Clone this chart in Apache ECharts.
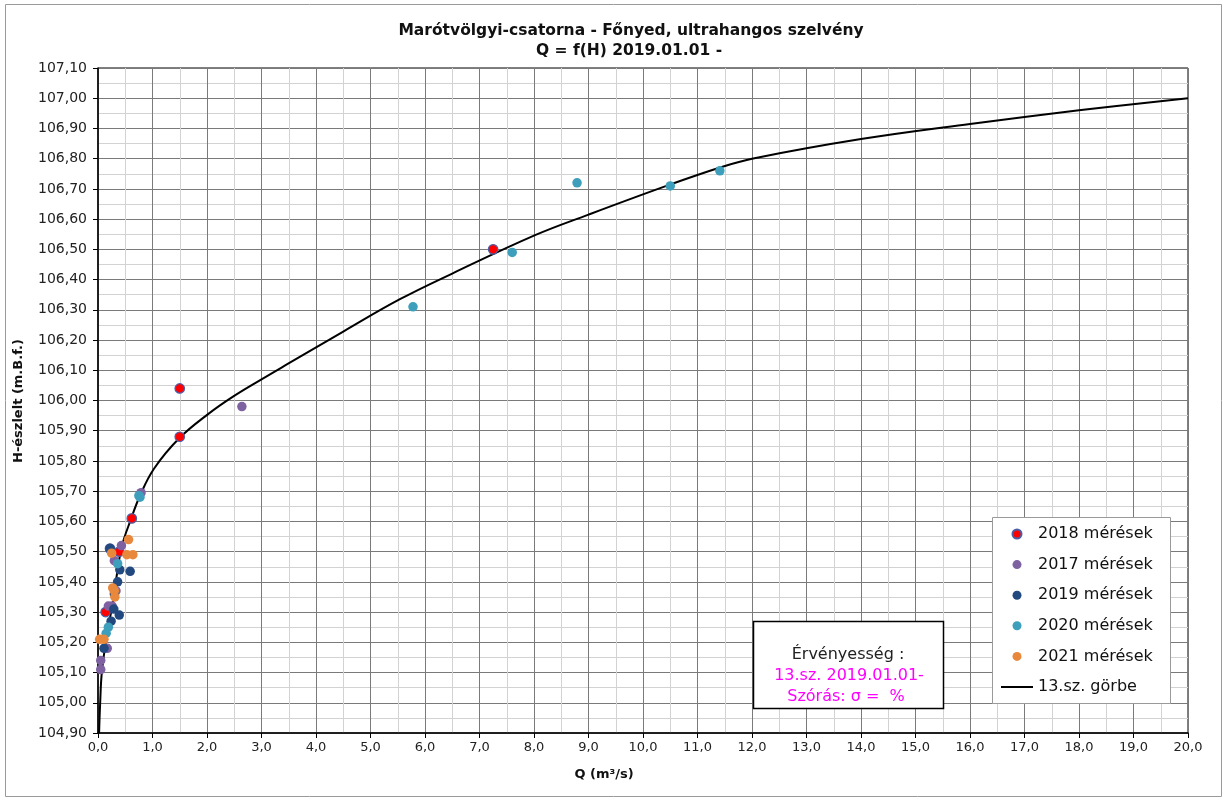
<!DOCTYPE html>
<html>
<head>
<meta charset="utf-8">
<script src="https://cdn.jsdelivr.net/npm/echarts/dist/echarts.min.js"></script>
<style>
html,body{margin:0;padding:0;background:#fff;}
#chart{width:1228px;height:802px;}
</style>
</head>
<body>
<div id="chart"></div>
<script>
// ---- data (Q in m3/s, H in m.B.f.) ----
const q2018 = [1.50, 1.50, 7.25, 0.62, 0.22, 0.39, 0.14];
const h2018 = [106.04, 105.88, 106.50, 105.61, 105.51, 105.50, 105.30];

const q2017 = [2.64, 0.79, 0.43, 0.30, 0.19, 0.26, 0.33, 0.17, 0.05, 0.05];
const h2017 = [105.98, 105.695, 105.52, 105.47, 105.32, 105.32, 105.37, 105.18, 105.14, 105.11];

const q2019 = [0.22, 0.40, 0.59, 0.36, 0.29, 0.39, 0.24, 0.11, 0.30];
const h2019 = [105.51, 105.44, 105.435, 105.40, 105.31, 105.29, 105.27, 105.18, 105.36];

const q2020 = [5.78, 7.60, 8.79, 10.50, 11.41, 0.77, 0.75, 0.36, 0.19, 0.15];
const h2020 = [106.31, 106.49, 106.72, 106.71, 106.76, 105.68, 105.685, 105.46, 105.25, 105.23];

const q2021 = [0.56, 0.25, 0.53, 0.64, 0.27, 0.30, 0.31, 0.03, 0.11];
const h2021 = [105.54, 105.495, 105.49, 105.49, 105.38, 105.37, 105.35, 105.21, 105.21];

const curveQ = [0.02, 0.04, 0.07, 0.16, 0.28, 0.36, 0.44, 0.60, 0.77, 1.03, 1.49, 2.02, 2.47, 3.00, 3.52, 4.50, 5.54, 6.50, 8.02, 9.00, 10.43, 11.40, 12.00, 14.00, 16.00, 18.00, 20.00];
const curveH = [104.90, 105.00, 105.10, 105.22, 105.34, 105.44, 105.52, 105.605, 105.685, 105.775, 105.875, 105.955, 106.012, 106.070, 106.125, 106.228, 106.335, 106.420, 106.547, 106.615, 106.710, 106.770, 106.800, 106.865, 106.915, 106.960, 107.000];

const seriesNames = ['2018 mérések', '2017 mérések', '2019 mérések', '2020 mérések', '2021 mérések', '13.sz. görbe'];
const titleLines = ['Marótvölgyi-csatorna - Főnyed, ultrahangos szelvény', 'Q = f(H) 2019.01.01 -'];
const yAxisTitle = 'H-észlelt (m.B.f.)';
const xAxisTitle = 'Q (m³/s)';
const boxLines = ['Érvényesség :', '13.sz. 2019.01.01-', 'Szórás: σ =  %'];

// ---- helpers ----
const zip = (a, b) => a.map((v, i) => [v, b[i]]);
const FONT = '"DejaVu Sans", Verdana, sans-serif';

const chart = echarts.init(document.getElementById('chart'), null, {renderer: 'canvas'});

function scatter(name, qs, hs, color, border) {
  return {
    name: name, type: 'scatter', data: zip(qs, hs),
    symbol: 'circle', symbolSize: 9.5,
    itemStyle: {color: color, borderColor: border || color, borderWidth: border ? 1.2 : 0, opacity: 1},
    z: 3
  };
}

const legendData = seriesNames.map((n, i) => i === 5
  ? {name: n, icon: 'path://M0,0H32V2H0Z'}
  : {name: n, icon: 'circle'});

const option = {
  backgroundColor: '#ffffff',
  animation: false,
  textStyle: {fontFamily: FONT},
  grid: {left: 98, top: 68, width: 1090, height: 665, show: true, borderColor: '#000', borderWidth: 1, backgroundColor: 'transparent'},
  xAxis: {
    type: 'value', min: 0, max: 20, interval: 1,
    axisLine: {show: true, onZero: false, lineStyle: {color: '#000', width: 1.5}},
    axisTick: {show: true, length: 5, lineStyle: {color: '#000'}},
    axisLabel: {margin: 8, fontSize: 13, color: '#222', fontFamily: FONT, formatter: v => v.toFixed(1).replace('.', ',')},
    splitLine: {show: true, lineStyle: {color: '#7a7a7a', width: 1}},
    minorTick: {show: false, splitNumber: 2},
    minorSplitLine: {show: true, lineStyle: {color: '#d2d2d2', width: 1}}
  },
  yAxis: {
    type: 'value', min: 104.9, max: 107.1, interval: 0.1,
    axisLine: {show: true, onZero: false, lineStyle: {color: '#000', width: 1.5}},
    axisTick: {show: true, length: 5, lineStyle: {color: '#000'}},
    axisLabel: {margin: 11, fontSize: 14, color: '#222', fontFamily: FONT, formatter: v => v.toFixed(2).replace('.', ',')},
    splitLine: {show: true, lineStyle: {color: '#7a7a7a', width: 1}},
    minorTick: {show: false, splitNumber: 2},
    minorSplitLine: {show: true, lineStyle: {color: '#d2d2d2', width: 1}}
  },
  legend: {
    orient: 'vertical', left: 1001, top: 526,
    itemWidth: 32, itemHeight: 9, itemGap: 14.6,
    padding: 0,
    data: legendData,
    textStyle: {fontSize: 16, lineHeight: 16, color: '#111', fontFamily: FONT},
    z: 10
  },
  series: [
    {
      name: seriesNames[5], type: 'line', data: zip(curveQ, curveH),
      smooth: 0.4, showSymbol: false, symbol: 'none',
      lineStyle: {color: '#000', width: 2}, itemStyle: {color: '#000'}, z: 2
    },
    scatter(seriesNames[0], q2018, h2018, '#ff0000', '#4a5fa8'),
    scatter(seriesNames[1], q2017, h2017, '#7e61a1'),
    scatter(seriesNames[2], q2019, h2019, '#22497f'),
    scatter(seriesNames[3], q2020, h2020, '#3d9fbb'),
    scatter(seriesNames[4], q2021, h2021, '#e8883c')
  ],
  graphic: [
    {type: 'rect', shape: {x: 5.5, y: 4.5, width: 1216, height: 792}, style: {fill: 'none', stroke: '#9a9a9a', lineWidth: 1}, z: 0, silent: true},
    {type: 'text', x: 631, y: 31, style: {text: titleLines[0], font: 'bold 15.5px ' + FONT, fill: '#111', textAlign: 'center', textVerticalAlign: 'middle'}},
    {type: 'text', x: 629, y: 51, style: {text: titleLines[1], font: 'bold 15.5px ' + FONT, fill: '#111', textAlign: 'center', textVerticalAlign: 'middle'}},
    {type: 'text', x: 19, y: 401, rotation: Math.PI / 2, style: {text: yAxisTitle, font: 'bold 13px ' + FONT, fill: '#111', textAlign: 'center', textVerticalAlign: 'middle'}},
    {type: 'text', x: 604, y: 775, style: {text: xAxisTitle, font: 'bold 13px ' + FONT, fill: '#111', textAlign: 'center', textVerticalAlign: 'middle'}},
    {type: 'rect', shape: {x: 992.5, y: 517.5, width: 178, height: 186}, style: {fill: '#fff', stroke: '#9a9a9a', lineWidth: 1}, z: 8, silent: true},
    {type: 'rect', shape: {x: 753.5, y: 621.5, width: 190, height: 87}, style: {fill: '#fff', stroke: '#000', lineWidth: 1.5}, z: 8, silent: true},
    {type: 'text', x: 848, y: 655, z: 9, style: {text: boxLines[0], font: '16px ' + FONT, fill: '#222', textAlign: 'center', textVerticalAlign: 'middle'}},
    {type: 'text', x: 849, y: 676, z: 9, style: {text: boxLines[1], font: '16px ' + FONT, fill: '#ff00ff', textAlign: 'center', textVerticalAlign: 'middle'}},
    {type: 'text', x: 846, y: 697, z: 9, style: {text: boxLines[2], font: '16px ' + FONT, fill: '#ff00ff', textAlign: 'center', textVerticalAlign: 'middle'}}
  ]
};
chart.setOption(option);
</script>
</body>
</html>
